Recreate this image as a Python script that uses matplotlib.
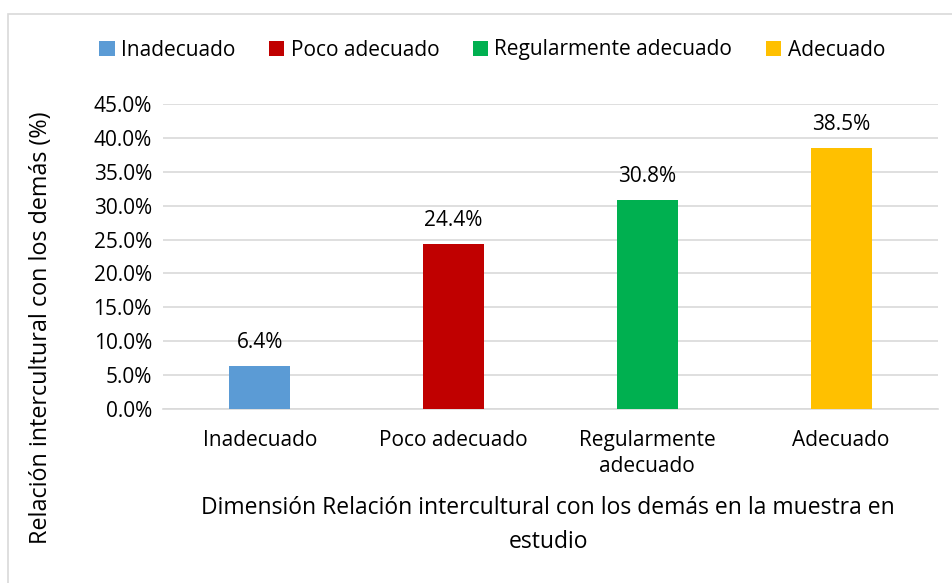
import matplotlib.pyplot as plt
from matplotlib.patches import Rectangle
from matplotlib.ticker import FuncFormatter

plt.rcParams["font.family"] = ["Open Sans", "DejaVu Sans"]

categorias = ["Inadecuado", "Poco adecuado", "Regularmente adecuado", "Adecuado"]
etiquetas_x = ["Inadecuado", "Poco adecuado", "Regularmente\nadecuado", "Adecuado"]
porcentajes = [6.4, 24.4, 30.8, 38.5]
colores = ["#5B9BD5", "#C00000", "#00B050", "#FFC000"]

fig = plt.figure(figsize=(9.53, 5.83), dpi=100)
ax = fig.add_axes([163 / 953, 1 - 409 / 583, 775 / 953, 305 / 583])

# borde del gráfico (solo se ven izquierda y arriba)
fig.patches.append(Rectangle((8 / 953, -0.1), 1.1, 1 - 14 / 583 + 0.1,
                             transform=fig.transFigure, fill=False,
                             edgecolor="#D9D9D9", linewidth=1.2))

x = range(len(categorias))
barras = ax.bar(x, porcentajes, width=0.315, color=colores, label=categorias, zorder=3)
for xi, v in zip(x, porcentajes):
    ax.annotate(f"{v:.1f}%", (xi, v), xytext=(0, 17), textcoords="offset points",
                ha="center", va="center", fontsize=15)

ax.set_xlim(-0.5, 3.5)
ax.set_ylim(0, 45)
ax.set_yticks([i * 5 for i in range(10)])
ax.yaxis.set_major_formatter(FuncFormatter(lambda v, p: f"{v:.1f}%"))
ax.grid(axis="y", color="#D9D9D9", linewidth=1.2, zorder=0)
ax.set_xticks(list(x))
ax.set_xticklabels(etiquetas_x, fontsize=15, linespacing=1.33)
ax.tick_params(axis="both", length=0, labelsize=15)
ax.tick_params(axis="x", pad=15)
ax.tick_params(axis="y", pad=8)
for s in ["top", "right", "left"]:
    ax.spines[s].set_visible(False)
ax.spines["bottom"].set_color("#D9D9D9")
ax.spines["bottom"].set_linewidth(1.2)

fig.text(41 / 953, 1 - 328 / 583, "Relación intercultural con los demás (%)",
         rotation=90, ha="center", va="center", fontsize=16.8)
fig.text(548 / 953, 1 - 525 / 583,
         "Dimensión Relación intercultural con los demás en la muestra en\nestudio",
         ha="center", va="center", fontsize=16.5, linespacing=1.6)

fig.legend(handles=barras, labels=categorias, loc="center", bbox_to_anchor=(492 / 953, 1 - 50 / 583),
           ncol=4, frameon=False, fontsize=15, handlelength=0.75, handleheight=0.75,
           handletextpad=0.3, columnspacing=1.6)

fig.savefig("out.png", dpi=100)
